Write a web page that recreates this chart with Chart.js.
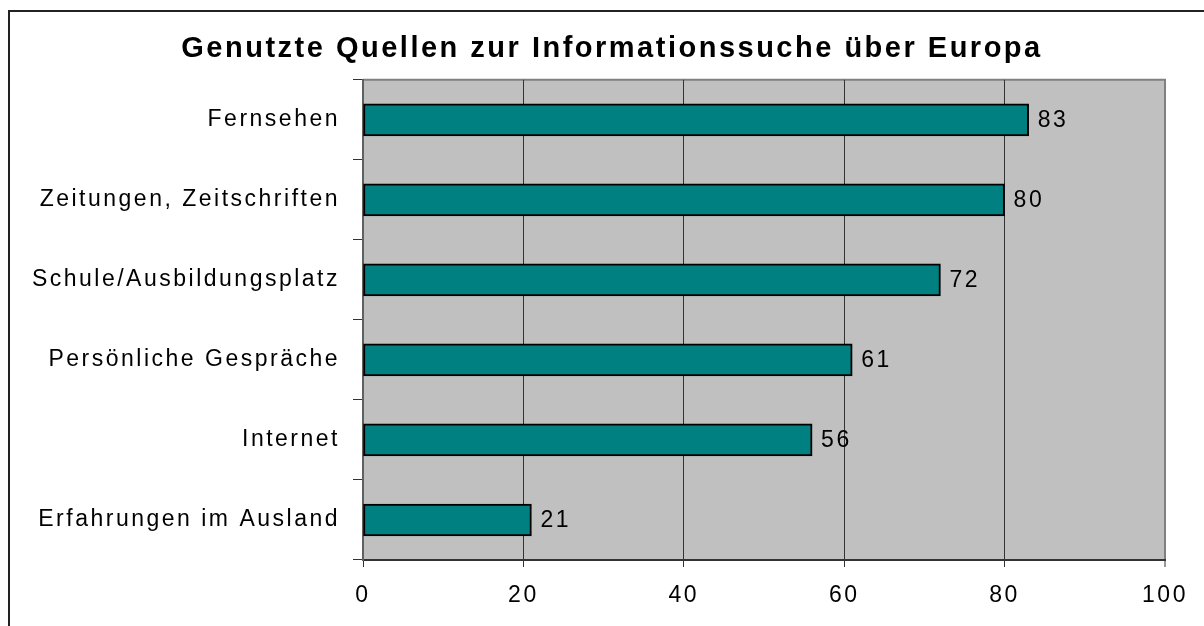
<!DOCTYPE html>
<html>
<head>
<meta charset="utf-8">
<script src="https://cdn.jsdelivr.net/npm/chart.js@4"></script>
<style>
  html, body { margin: 0; padding: 0; background: #fff; }
  #c { display: block; }
</style>
</head>
<body>
<canvas id="c" width="1204" height="626"></canvas>
<script>
const titleText = 'Genutzte Quellen zur Informationssuche über Europa';
const categories = ['Fernsehen', 'Zeitungen, Zeitschriften', 'Schule/Ausbildungsplatz', 'Persönliche Gespräche', 'Internet', 'Erfahrungen im Ausland'];
const values = [83, 80, 72, 61, 56, 21];
const xTickValues = [0, 20, 40, 60, 80, 100];

const FONT = "'Liberation Sans', Arial, sans-serif";
const SPACING = '2.5px';

function setSpacing(chart) {
  if (chart.ctx && 'letterSpacing' in chart.ctx) chart.ctx.letterSpacing = SPACING;
}

const decor = {
  id: 'decor',
  beforeInit: setSpacing,
  beforeUpdate: setSpacing,
  beforeLayout: setSpacing,
  afterLayout(chart) {
    // centre the title over the framed picture, like the original
    if (chart.titleBlock) {
      chart.titleBlock.left = 20;
      chart.titleBlock.right = chart.width;
      chart.titleBlock.width = chart.width - 20;
    }
  },
  beforeDraw(chart) {
    setSpacing(chart);
    const ctx = chart.ctx, a = chart.chartArea;
    ctx.save();
    ctx.fillStyle = '#ffffff';
    ctx.fillRect(0, 0, chart.width, chart.height);
    ctx.strokeStyle = '#222222';
    ctx.lineWidth = 2;
    ctx.beginPath();
    ctx.moveTo(9, chart.height);
    ctx.lineTo(9, 11);
    ctx.lineTo(chart.width, 11);
    ctx.stroke();
    ctx.fillStyle = '#c0c0c0';
    ctx.fillRect(a.left, a.top, a.right - a.left, a.bottom - a.top);
    ctx.strokeStyle = '#808080';
    ctx.lineWidth = 2;
    ctx.beginPath();
    ctx.moveTo(a.left, a.top);
    ctx.lineTo(a.right, a.top);
    ctx.lineTo(a.right, a.bottom);
    ctx.stroke();
    ctx.restore();
  },
  afterDatasetsDraw(chart) {
    const ctx = chart.ctx;
    const meta = chart.getDatasetMeta(0);
    ctx.save();
    setSpacing(chart);
    ctx.font = '23px ' + FONT;
    ctx.fillStyle = '#000';
    ctx.textAlign = 'left';
    ctx.textBaseline = 'middle';
    meta.data.forEach((bar, i) => {
      ctx.fillText(String(values[i]), bar.x + 9, bar.y + 1);
    });
    ctx.restore();
  }
};

new Chart(document.getElementById('c'), {
  type: 'bar',
  data: {
    labels: categories,
    datasets: [{
      data: values,
      backgroundColor: '#008080',
      borderColor: '#000000',
      borderWidth: 2,
      borderSkipped: false,
      barThickness: 32
    }]
  },
  plugins: [decor],
  options: {
    indexAxis: 'y',
    responsive: false,
    animation: false,
    events: [],
    layout: { padding: { left: 20, right: 39, top: 0, bottom: 0 } },
    plugins: {
      legend: { display: false },
      tooltip: { enabled: false },
      title: {
        display: true,
        text: titleText,
        color: '#000',
        font: { family: FONT, size: 29, weight: 'bold' },
        padding: { top: 32, bottom: 13 }
      }
    },
    scales: {
      x: {
        min: 0,
        max: 100,
        afterBuildTicks(scale) { scale.ticks = xTickValues.map(v => ({ value: v })); },
        afterFit(scale) { scale.height = 66; },
        ticks: {
          color: '#000',
          font: { family: FONT, size: 23 },
          padding: 15,
          callback: (v) => String(v)
        },
        grid: {
          color: (c) => (c.tick && c.tick.value === 100) ? '#808080' : '#333333',
          lineWidth: (c) => (c.tick && c.tick.value === 100) ? 2 : 1,
          tickColor: '#333333',
          tickWidth: 1,
          tickLength: 7
        },
        border: { display: true, color: '#333333', width: 2 }
      },
      y: {
        afterFit(scale) { scale.width = 343; },
        ticks: {
          color: '#000',
          font: { family: FONT, size: 23 },
          padding: 13
        },
        grid: {
          drawOnChartArea: false,
          drawTicks: true,
          tickLength: 10,
          color: '#333333',
          offset: true
        },
        border: { display: true, color: '#606060', width: 2 }
      }
    }
  }
});
</script>
</body>
</html>
